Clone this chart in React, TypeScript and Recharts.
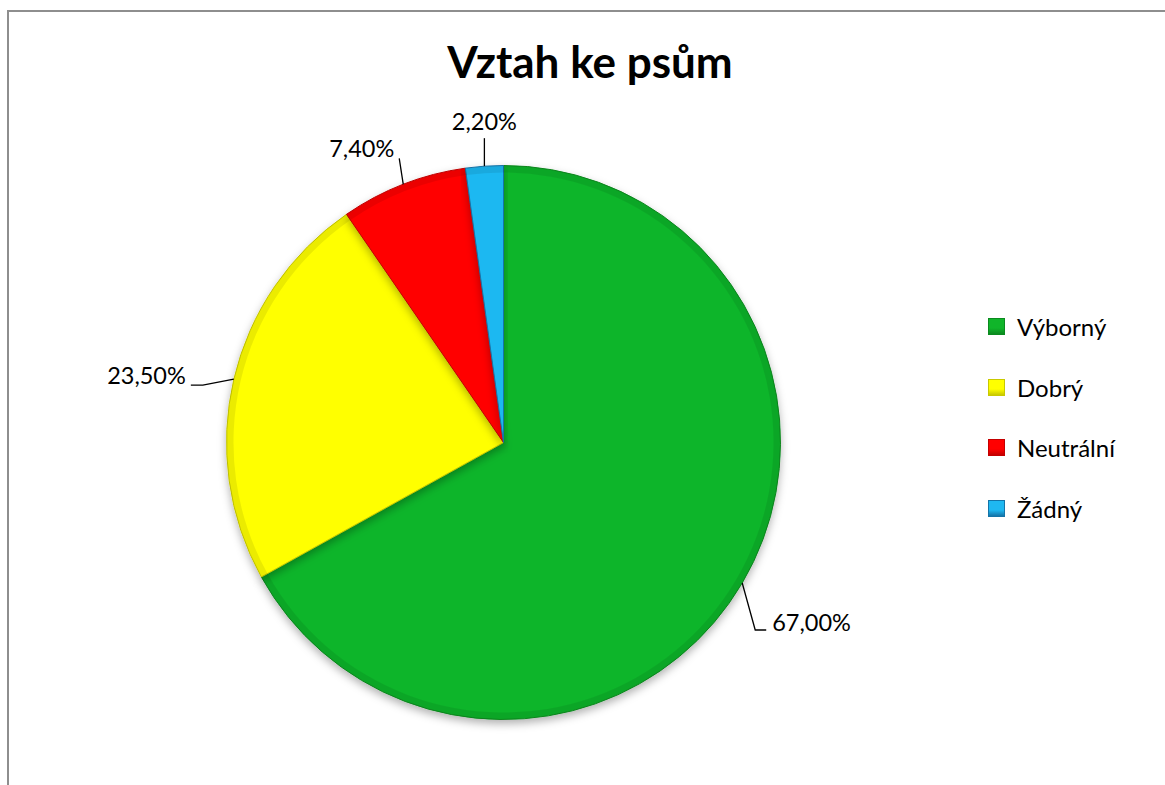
import { Cell, Legend, Pie, PieChart } from 'recharts'

const categories = ['Výborný', 'Dobrý', 'Neutrální', 'Žádný']
const shares = [67.0, 23.5, 7.4, 2.2]
const valueLabels = ['67,00%', '23,50%', '7,40%', '2,20%']

const COLORS = ['#10b52a', '#ffff00', '#ff0000', '#1fb8f1']
const EDGES = ['#0b8a1f', '#c9c900', '#c40000', '#1474a8']
const FONT = 'Lato, "Open Sans", sans-serif'

const data = categories.map((name, i) => ({ name, value: shares[i], label: valueLabels[i] }))

// leader line layout per slice: first bend relative to the slice edge, then a short tail
const LEADERS = [
  { bx: 13, by: 47, tail: 11, anchor: 'start' },
  { bx: -31, by: 6, tail: -12, anchor: 'end' },
  { bx: -4, by: -26, tail: 0, anchor: 'end' },
  { bx: 0, by: -28, tail: 0, anchor: 'middle' },
] as const

const RAD = Math.PI / 180

function renderLabel(props: any) {
  const { cx, cy, midAngle, outerRadius, index } = props
  const ex = cx + outerRadius * Math.cos(-midAngle * RAD)
  const ey = cy + outerRadius * Math.sin(-midAngle * RAD)
  const l = LEADERS[index]
  const bx = ex + l.bx
  const by = ey + l.by
  const tx = bx + l.tail
  let textX = tx
  let textY = by
  if (index === 0) {
    textX = tx + 6
    textY = by + 1
  } else if (index === 1) {
    textX = tx - 5
    textY = by - 1
  } else if (index === 2) {
    textX = bx - 5
    textY = by - 1
  } else {
    textY = by - 8
  }
  const points = l.tail !== 0 ? `${ex},${ey} ${bx},${by} ${tx},${by}` : `${ex},${ey} ${bx},${by}`
  return (
    <g key={`lbl-${index}`}>
      <polyline points={points} fill="none" stroke="#000" strokeWidth={1.3} />
      <text x={textX} y={textY} textAnchor={l.anchor} fill="#000" fontFamily={FONT} fontSize={23.5}>
        {data[index].label}
      </text>
    </g>
  )
}

function renderLegend() {
  return (
    <div style={{ fontFamily: FONT, fontSize: 24, color: '#000' }}>
      {categories.map((name, i) => (
        <div key={name} style={{ height: 60.7, display: 'flex', alignItems: 'center' }}>
          <span
            style={{
              width: 15,
              height: 15,
              marginRight: 12,
              background: `linear-gradient(180deg, ${COLORS[i]} 0%, ${COLORS[i]} 60%, ${EDGES[i]} 100%)`,
              border: `1px solid ${EDGES[i]}`,
            }}
          />
          <span>{name}</span>
        </div>
      ))}
    </div>
  )
}

export default function App() {
  return (
    <div
      style={{
        position: 'fixed',
        left: 0,
        top: 0,
        width: 1165,
        height: 785,
        overflow: 'hidden',
        background: '#fff',
      }}
    >
      <div
        style={{
          position: 'absolute',
          left: 7,
          top: 10,
          width: 1200,
          height: 800,
          borderTop: '2px solid #8e8e8e',
          borderLeft: '2px solid #8e8e8e',
        }}
      />
      <div
        style={{
          position: 'absolute',
          left: 0,
          top: 39,
          width: 1180,
          textAlign: 'center',
          fontFamily: FONT,
          fontWeight: 700,
          fontSize: 44,
          lineHeight: 1,
          color: '#000',
        }}
      >
        Vztah ke psům
      </div>
      <div style={{ position: 'absolute', left: 0, top: 0 }}>
        <PieChart width={1165} height={785} margin={{ top: 0, right: 0, bottom: 0, left: 0 }}>
          <defs>
            <filter id="pieShadow" x="-10%" y="-10%" width="120%" height="125%">
              <feDropShadow dx="0" dy="4" stdDeviation="4" floodColor="#000" floodOpacity="0.3" />
            </filter>
          </defs>
          <Pie
            data={data}
            dataKey="value"
            nameKey="name"
            cx={503.5}
            cy={442.5}
            outerRadius={277}
            startAngle={90}
            endAngle={-270}
            label={renderLabel}
            labelLine={false}
            isAnimationActive={false}
            style={{ filter: 'url(#pieShadow)' }}
          >
            {data.map((d, i) => (
              <Cell key={d.name} fill={COLORS[i]} stroke={EDGES[i]} strokeWidth={1} />
            ))}
          </Pie>
          <Pie
            data={data}
            dataKey="value"
            cx={503.5}
            cy={442.5}
            innerRadius={270}
            outerRadius={277}
            startAngle={90}
            endAngle={-270}
            isAnimationActive={false}
            legendType="none"
            stroke="none"
          >
            {data.map((d) => (
              <Cell key={d.name} fill="rgba(0,0,0,0.08)" />
            ))}
          </Pie>
          <Legend
            content={renderLegend}
            layout="vertical"
            wrapperStyle={{ position: 'absolute', left: 988, top: 296, width: 170 }}
          />
        </PieChart>
      </div>
    </div>
  )
}
